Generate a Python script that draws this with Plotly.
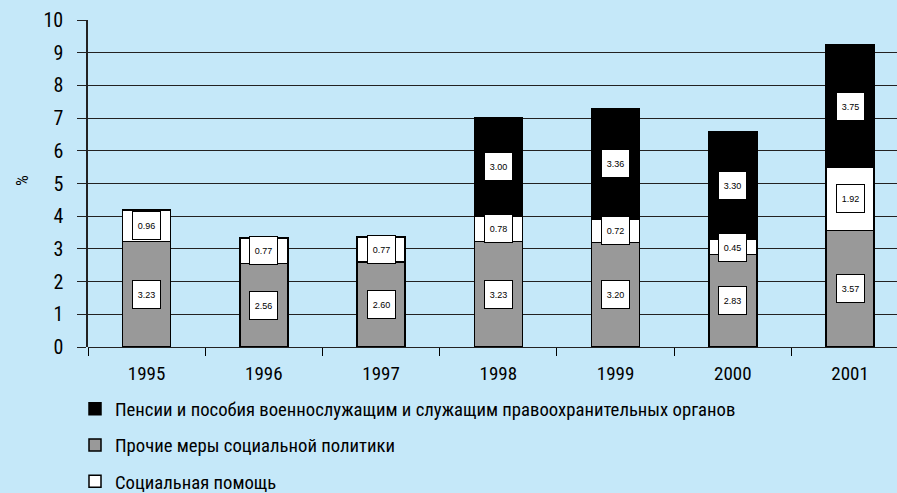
import plotly.graph_objects as go

years = ['1995', '1996', '1997', '1998', '1999', '2000', '2001']
other = [3.23, 2.56, 2.60, 3.23, 3.20, 2.83, 3.57]
social = [0.96, 0.77, 0.77, 0.78, 0.72, 0.45, 1.92]
pensions = [None, None, None, 3.00, 3.36, 3.30, 3.75]

name_pens = 'Пенсии и пособия военнослужащим и служащим правоохранительных органов'
name_other = 'Прочие меры социальной политики'
name_social = 'Социальная помощь'

BG = '#C5E8F9'
NARROW = 'Liberation Sans Narrow, Arial Narrow, Roboto Condensed, Liberation Sans, sans-serif'

W, H = 897, 493
ML, MR, MT, MB = 88, 0, 20, 146
PW, PH = W - ML - MR, H - MT - MB

fig = go.Figure()
common = dict(width=0.41, marker_line_color='black', marker_line_width=1.5)
fig.add_trace(go.Bar(x=years, y=other, name=name_other, marker_color='#999999',
                     legendrank=2, legendgroup='b', **common))
fig.add_trace(go.Bar(x=years, y=social, name=name_social, marker_color='white',
                     legendrank=3, legendgroup='c', **common))
fig.add_trace(go.Bar(x=years, y=pensions, name=name_pens, marker_color='black',
                     legendrank=1, legendgroup='a', **common))

annotations = []
for i, yr in enumerate(years):
    base = 0.0
    for seg in (other[i], social[i], pensions[i]):
        if seg is None:
            continue
        annotations.append(dict(
            x=i, y=base + seg / 2, xref='x', yref='y', text=f'{seg:.2f}',
            showarrow=False, font=dict(size=9, family='Liberation Sans, Arial, sans-serif', color='black'),
            bgcolor='white', bordercolor='black', borderwidth=1, borderpad=0,
            width=27, height=27, align='center', valign='middle'))
        base += seg

annotations.append(dict(
    x=-(ML - 22) / PW, y=(H - MB - 181) / PH, xref='paper', yref='paper', text='%',
    textangle=-90, showarrow=False, xanchor='center', yanchor='middle',
    font=dict(size=17, family=NARROW, color='black')))

fig.update_layout(
    width=W, height=H,
    margin=dict(l=ML, r=MR, t=MT, b=MB, autoexpand=False),
    paper_bgcolor=BG, plot_bgcolor=BG,
    barmode='stack',
    showlegend=True,
    legend=dict(x=-(ML - 75) / PW, y=-(390 - (H - MB)) / PH, xanchor='left', yanchor='top',
                orientation='v', tracegroupgap=9, bgcolor='rgba(0,0,0,0)',
                font=dict(size=18.7, family=NARROW, color='black'),
                itemwidth=30),
    annotations=annotations,
    xaxis=dict(type='category', range=[-0.5, 6.4], showgrid=False, ticks='outside',
               tickson='boundaries', ticklen=8, tickcolor='black', showline=False,
               ticklabelstandoff=13,
               tickfont=dict(size=19, family=NARROW, color='black'), fixedrange=True),
    yaxis=dict(range=[0, 10], dtick=1, showgrid=True, gridcolor='#222222', gridwidth=1,
               zeroline=True, zerolinecolor='#222222', zerolinewidth=1,
               showline=True, linecolor='#222222', linewidth=1.5,
               ticks='outside', ticklen=9, tickcolor='#222222', ticklabelstandoff=10,
               tickfont=dict(size=20, family=NARROW, color='black'), fixedrange=True),
)

fig.write_html('out.html', config={'displayModeBar': False},
               post_script="document.body.style.margin='0';document.body.style.overflow='hidden';")
